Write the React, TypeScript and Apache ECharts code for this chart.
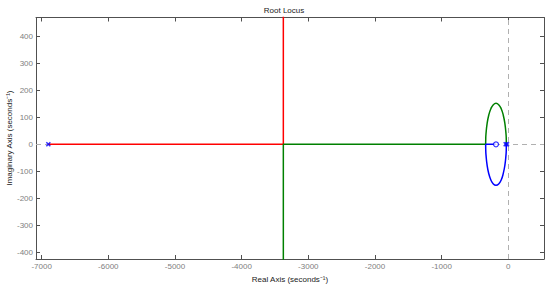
import React, { useEffect, useRef } from "react";
import * as echarts from "echarts";

// Root locus data (real, imaginary)
const poles: number[][] = [[-6900, 0], [-40, 0], [-20, 0]];
const zeros: number[][] = [[-185, 0]];

const redBranch: number[][] = [[-6900, 0], [-3375, 0], [-3375, 600]];
const greenStraight: number[][] = [[-20, 0], [-30, 0]];
const greenLoop: number[][] = [
  [-30, 0], [-31, 20], [-35, 39], [-51, 76], [-75, 107], [-107, 132], [-145, 147],
  [-185, 152], [-225, 147], [-262, 132], [-295, 107], [-319, 76], [-335, 39], [-339, 20], [-340, 0],
];
const greenTail: number[][] = [[-340, 0], [-3375, 0], [-3375, -600]];
const blueStraight: number[][] = [[-40, 0], [-30, 0]];
const blueLoop: number[][] = [
  [-30, 0], [-31, -20], [-35, -39], [-51, -76], [-75, -107], [-107, -132], [-145, -147],
  [-185, -152], [-225, -147], [-262, -132], [-295, -107], [-319, -76], [-335, -39], [-339, -20], [-340, 0],
];
const blueTail: number[][] = [[-340, 0], [-185, 0]];

const xTicks = [-7000, -6000, -5000, -4000, -3000, -2000, -1000, 0];
const yTicks = [-400, -300, -200, -100, 0, 100, 200, 300, 400];

const FONT = "Liberation Sans, Arial, sans-serif";
const AXIS = "#505050";

export default function App() {
  const ref = useRef<HTMLDivElement>(null);
  useEffect(() => {
    if (!ref.current) return;
    const chart = echarts.init(ref.current, undefined, { renderer: "svg" });
    const axisCommon = {
      axisLine: { show: true, onZero: false, lineStyle: { color: AXIS, width: 1 } },
      splitLine: { show: false },
    };
    const line = (data: number[][], color: string, smooth = false) => ({
      type: "line",
      data,
      smooth,
      symbol: "none",
      lineStyle: { color, width: 1.5 },
      itemStyle: { color },
      z: 3,
    });
    chart.setOption({
      animation: false,
      backgroundColor: "#ffffff",
      title: {
        text: "Root Locus",
        left: 279,
        top: 1,
        textAlign: "center",
        textStyle: { fontFamily: FONT, fontSize: 8, fontWeight: "normal", color: "#222" },
      },
      graphic: [
        {
          type: "text",
          x: 9,
          y: 138,
          rotation: Math.PI / 2,
          style: {
            text: "Imaginary Axis (seconds⁻¹)",
            align: "center",
            verticalAlign: "middle",
            fontFamily: FONT,
            fontSize: 8,
            fill: "#222",
          },
        },
      ],
      grid: { left: 36, top: 17.5, right: 6, bottom: 25, containLabel: false, outerBoundsMode: "none" },
      xAxis: [
        {
          type: "value",
          min: -7085,
          max: 535,
          position: "bottom",
          ...axisCommon,
          axisTick: { show: true, inside: true, length: 4, lineStyle: { color: AXIS }, customValues: xTicks },
          axisLabel: {
            show: true, margin: 3, color: "#808080", fontSize: 8, fontFamily: FONT,
            customValues: xTicks, formatter: (v: number) => String(v),
          },
          name: "Real Axis (seconds⁻¹)",
          nameLocation: "middle",
          nameGap: 16,
          nameTextStyle: { fontFamily: FONT, fontSize: 8, color: "#222" },
        },
        {
          type: "value",
          min: -7085,
          max: 535,
          position: "top",
          ...axisCommon,
          axisTick: { show: true, inside: true, length: 4, lineStyle: { color: AXIS }, customValues: xTicks },
          axisLabel: { show: false },
        },
      ],
      yAxis: [
        {
          type: "value",
          min: -425,
          max: 470,
          position: "left",
          ...axisCommon,
          axisTick: { show: true, inside: true, length: 4, lineStyle: { color: AXIS }, customValues: yTicks },
          axisLabel: {
            show: true, margin: 3, color: "#808080", fontSize: 8, fontFamily: FONT,
            customValues: yTicks, formatter: (v: number) => String(v),
          },
        },
        {
          type: "value",
          min: -425,
          max: 470,
          position: "right",
          ...axisCommon,
          axisTick: { show: true, inside: true, length: 4, lineStyle: { color: AXIS }, customValues: yTicks },
          axisLabel: { show: false },
        },
      ],
      series: [
        {
          type: "line",
          data: [],
          symbol: "none",
          z: 1,
          markLine: {
            silent: true,
            z: 1,
            symbol: "none",
            label: { show: false },
            lineStyle: { color: "#b0b0b0", type: [5, 4], width: 1 },
            data: [{ xAxis: 0 }, { yAxis: 0 }],
          },
        },
        line(redBranch, "#ff0000"),
        line(greenStraight, "#008000"),
        line(greenLoop, "#008000", true),
        line(greenTail, "#008000"),
        line(blueStraight, "#0000ff"),
        line(blueLoop, "#0000ff", true),
        line(blueTail, "#0000ff"),
        {
          type: "scatter",
          data: poles,
          symbol: "path://M0,0L10,10M10,0L0,10",
          symbolSize: 4,
          itemStyle: { color: "none", borderColor: "#0000ff", borderWidth: 1.5 },
          z: 5,
        },
        {
          type: "scatter",
          data: zeros,
          symbol: "circle",
          symbolSize: 5,
          itemStyle: { color: "#ffffff", borderColor: "#0000ff", borderWidth: 1.2 },
          z: 5,
        },
      ],
    });
    return () => chart.dispose();
  }, []);
  return (
    <div
      ref={ref}
      style={{ position: "absolute", left: 0, top: 0, width: 550, height: 284 }}
    />
  );
}
